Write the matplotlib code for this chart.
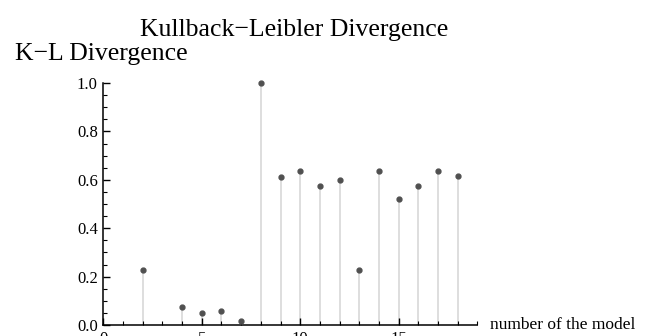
import matplotlib
matplotlib.use("Agg")
import matplotlib.pyplot as plt
from matplotlib.ticker import MultipleLocator

# data
models = list(range(1, 19))
kl_div = [0.0, 0.227, 0.0, 0.073, 0.051, 0.058, 0.017, 1.0, 0.612,
          0.636, 0.576, 0.599, 0.228, 0.636, 0.52, 0.576, 0.636, 0.614]
y_ticks = [0.0, 0.2, 0.4, 0.6, 0.8, 1.0]
y_labels = ['0.0', '0.2', '0.4', '0.6', '0.8', '1.0']

plt.rcParams['font.family'] = ['Liberation Serif', 'DejaVu Serif']

fig = plt.figure(figsize=(6.54, 3.36), dpi=100)
ax = fig.add_axes([0.158, 0.0327, 0.572, 0.72])

ax.vlines(models, 0, kl_div, color='#d8d8d8', lw=1.2, zorder=1)
# zero values sit on the axis and show no dot in the reference
px = [m for m, v in zip(models, kl_div) if v > 0]
py = [v for v in kl_div if v > 0]
ax.plot(px, py, 'o', color='#505050', ms=3.5, zorder=3, clip_on=False)

ax.set_xlim(0, 19)
ax.set_ylim(0, 1.0)

for s in ['top', 'right']:
    ax.spines[s].set_visible(False)
ax.spines['left'].set_linewidth(1.1)
ax.spines['bottom'].set_linewidth(1.1)

ax.xaxis.set_major_locator(MultipleLocator(5))
ax.xaxis.set_minor_locator(MultipleLocator(1))
ax.yaxis.set_minor_locator(MultipleLocator(0.05))
ax.set_yticks(y_ticks)
ax.set_yticklabels(y_labels)
ax.tick_params(which='major', direction='in', length=5, width=1, labelsize=12, pad=4)
ax.tick_params(which='minor', direction='in', length=3, width=0.8)

fig.text(0.449, 1 - 36 / 336, 'Kullback\u2212Leibler Divergence',
         ha='center', va='baseline', fontsize=18.5)
fig.text(0.023, 1 - 60 / 336, 'K\u2212L Divergence',
         ha='left', va='baseline', fontsize=18.5)
ax.text(1.033, 0.0, 'number of the model', transform=ax.transAxes,
        ha='left', va='center', fontsize=12.5)

fig.savefig('out.png', dpi=100)
